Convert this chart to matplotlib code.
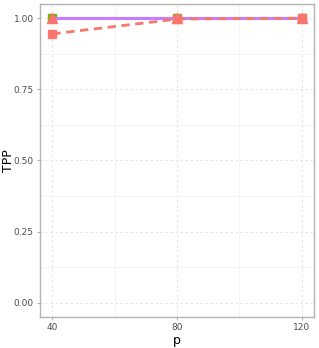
import matplotlib.pyplot as plt
import numpy as np

p = [40, 80, 120]
tpp_green = [1.0, 1.0, 1.0]
tpp_purple = [1.0, 1.0, 1.0]
tpp_red_tri = [1.0, 1.0, 1.0]
tpp_red_sq = [0.945, 0.997, 1.0]

fig = plt.figure(figsize=(3.19, 3.48), dpi=100)
ax = fig.add_axes([40 / 319, 31 / 348, 274 / 319, 313 / 348])

ax.plot(p, tpp_green, color='#7CAE00', lw=1.5, marker='s', ms=6, zorder=3)
ax.plot(p, tpp_purple, color='#C77CFF', lw=2.2, zorder=4)
ax.plot(p, tpp_red_sq, color='#F8766D', lw=2, ls=(0, (3, 2)), marker='s', ms=6, zorder=5)
ax.plot(p, tpp_red_tri, color='#F8766D', lw=0, marker='^', ms=7, zorder=6)

ax.set_xlim(36, 124)
ax.set_ylim(-0.05, 1.05)
ax.set_xticks([40, 80, 120])
ax.set_yticks([0, 0.25, 0.5, 0.75, 1.0])
ax.set_yticklabels(['0.00', '0.25', '0.50', '0.75', '1.00'])
ax.set_xticks([60, 100], minor=True)
ax.set_yticks([0.125, 0.375, 0.625, 0.875], minor=True)

ax.grid(which='major', color='#e0e0e0', lw=0.6, ls=(0, (3, 3)))
ax.grid(which='minor', color='#f0f0f0', lw=0.5)
ax.set_axisbelow(True)
for s in ax.spines.values():
    s.set_color('#b3b3b3')
    s.set_linewidth(1)
ax.tick_params(which='major', length=2.5, color='#b3b3b3', labelsize=6.5, labelcolor='#4d4d4d', pad=2)
ax.tick_params(which='minor', length=0)

ax.set_xlabel('p', fontsize=9, labelpad=1)
ax.set_ylabel('TPP', fontsize=9)
ax.yaxis.set_label_coords(-25 / 274, 0.5)

plt.savefig('out.png', dpi=100)
